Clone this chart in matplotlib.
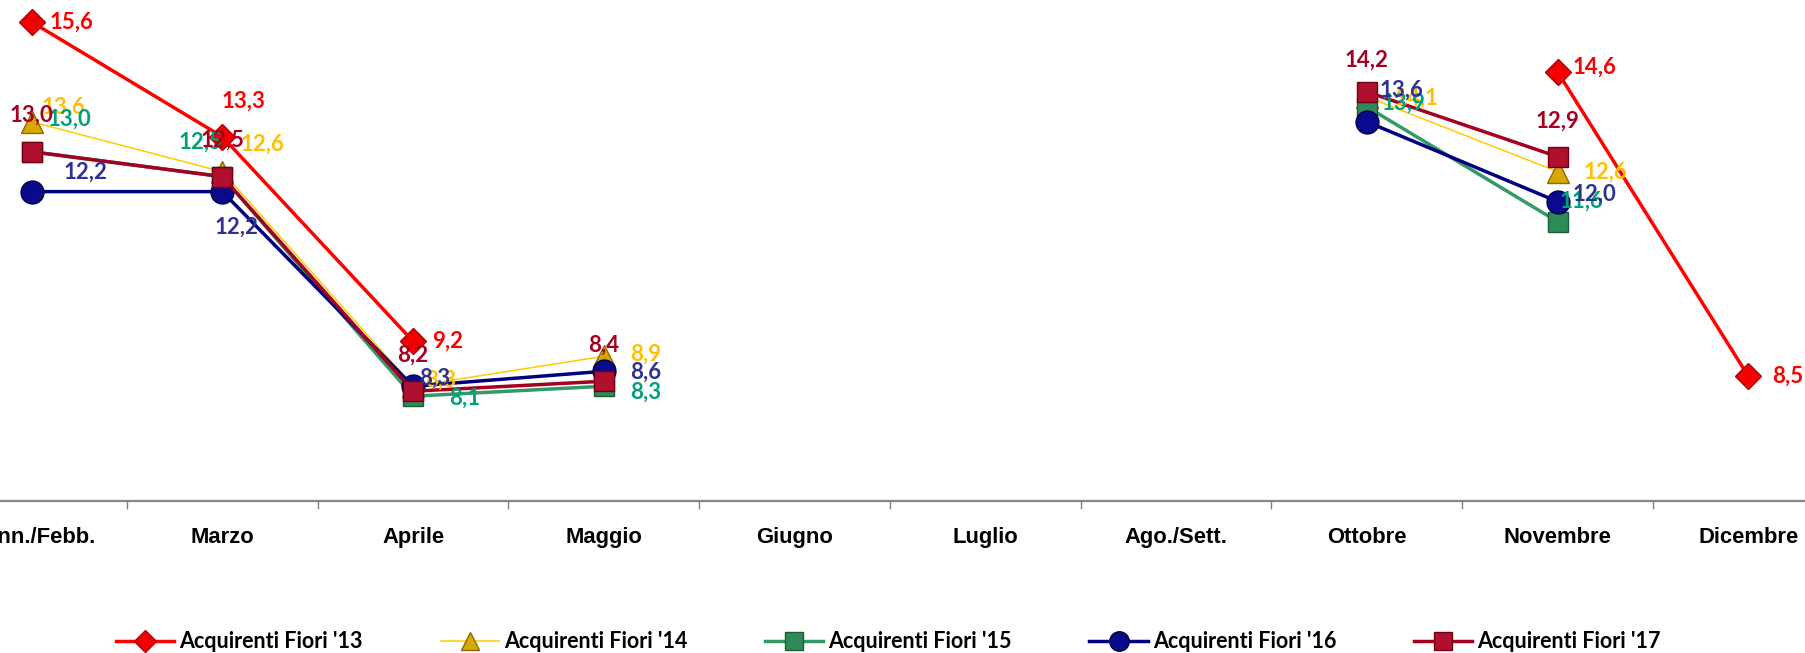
import numpy as np
import matplotlib
matplotlib.use("Agg")
import matplotlib.pyplot as plt
from matplotlib.lines import Line2D

nan = np.nan

mesi = ['Genn./Febb.', 'Marzo', 'Aprile', 'Maggio', 'Giugno', 'Luglio',
        'Ago./Sett.', 'Ottobre', 'Novembre', 'Dicembre']

fiori_13 = [15.6, 13.3, 9.2, nan, nan, nan, nan, nan, 14.6, 8.5]
fiori_14 = [13.6, 12.6, 8.3, 8.9, nan, nan, nan, 14.1, 12.6, nan]
fiori_15 = [13.0, 12.5, 8.1, 8.3, nan, nan, nan, 13.9, 11.6, nan]
fiori_16 = [12.2, 12.2, 8.3, 8.6, nan, nan, nan, 13.6, 12.0, nan]
fiori_17 = [13.0, 12.5, 8.2, 8.4, nan, nan, nan, 14.2, 12.9, nan]

nomi = ["Acquirenti Fiori '13", "Acquirenti Fiori '14", "Acquirenti Fiori '15",
        "Acquirenti Fiori '16", "Acquirenti Fiori '17"]

# style per series: line colour, line width, marker, marker face, marker edge, label colour
stili = [
    dict(color='#FF0000', lw=2.5, marker='D', ms=13, mfc='#F00000', mec='#B00000', lab='#FF0000'),
    dict(color='#FFCC00', lw=1.1, marker='^', ms=16, mfc='#D9A800', mec='#8C6D00', lab='#FFC000'),
    dict(color='#339966', lw=2.5, marker='s', ms=14.5, mfc='#2E8B57', mec='#1D5C39', lab='#00A07A'),
    dict(color='#000080', lw=2.5, marker='o', ms=16.5, mfc='#0A0A8C', mec='#00004A', lab='#2E3192'),
    dict(color='#A50021', lw=2.5, marker='s', ms=15, mfc='#B0102E', mec='#6E0015', lab='#A50021'),
]

# label offsets in pixels (dx, dy) from each point, y up
off = [
    {0: (40, 0), 1: (21, 36), 2: (35, 0), 8: (37, 5), 9: (39, 0)},
    {0: (32, 15), 1: (40, 27), 2: (28, 6), 3: (42, 2), 7: (50, -1), 8: (48, -1)},
    {0: (38, 32), 1: (-22, 34), 2: (52, -2), 3: (42, -6), 7: (37, 4), 8: (24, 20)},
    {0: (54, 19), 1: (14, -36), 2: (22, 8), 3: (42, -1), 7: (35, 32), 8: (37, 7)},
    {0: (0, 36), 1: (0, 36), 2: (0, 36), 3: (0, 36), 7: (0, 32), 8: (0, 35)},
]

serie = [fiori_13, fiori_14, fiori_15, fiori_16, fiori_17]

W, H = 1806, 653
fig = plt.figure(figsize=(W / 100, H / 100), dpi=100)
x_left = -63.8 / W
ax = fig.add_axes([x_left, 1 - 501 / H, 1907.5 / W, 499 / H])

x = np.arange(len(mesi))
for i, (vals, st) in enumerate(zip(serie, stili)):
    ax.plot(x, vals, color=st['color'], lw=st['lw'], marker=st['marker'],
            ms=st['ms'], mfc=st['mfc'], mec=st['mec'], mew=1.0,
            zorder=2 + i, clip_on=False)

for i, (vals, st) in enumerate(zip(serie, stili)):
    for j, v in enumerate(vals):
        if np.isnan(v):
            continue
        dx, dy = off[i].get(j, (30, 0))
        ax.annotate(f"{v:.1f}".replace('.', ','), (j, v), xytext=(dx, dy),
                    textcoords='offset pixels', ha='center', va='center',
                    fontsize=16, fontweight='bold', color=st['lab'],
                    family='Lato', zorder=10 + i, annotation_clip=False)

ax.set_xlim(-0.5, len(mesi) - 0.5)
ax.set_ylim(6, 16)
ax.set_xticks(x)
ax.set_xticklabels(mesi, fontsize=15.8, fontweight='bold', family='Liberation Sans')
ax.set_xticks(np.arange(0.5, len(mesi) - 0.5, 1), minor=True)
ax.tick_params(axis='x', which='major', length=0, pad=19)
ax.tick_params(axis='x', which='minor', length=6, width=1, color='#808080')
ax.set_yticks([])
for s in ['top', 'left', 'right']:
    ax.spines[s].set_visible(False)
ax.spines['bottom'].set_color('#868686')
ax.spines['bottom'].set_linewidth(1.6)
ax.patch.set_alpha(0)

handles = [Line2D([], [], color=st['color'], lw=st['lw'], marker=st['marker'],
                  ms=st['ms'], mfc=st['mfc'], mec=st['mec'], mew=1.0)
           for st in stili]
fig.legend(handles, nomi, loc='center', bbox_to_anchor=(0.492, 1 - 642 / H),
           ncol=5, frameon=False, handlelength=2.7, handletextpad=0.25,
           columnspacing=3.6, markerscale=0.85,
           prop=dict(family='Lato', weight='bold', size=15.5))

fig.savefig('out.png', dpi=100)
